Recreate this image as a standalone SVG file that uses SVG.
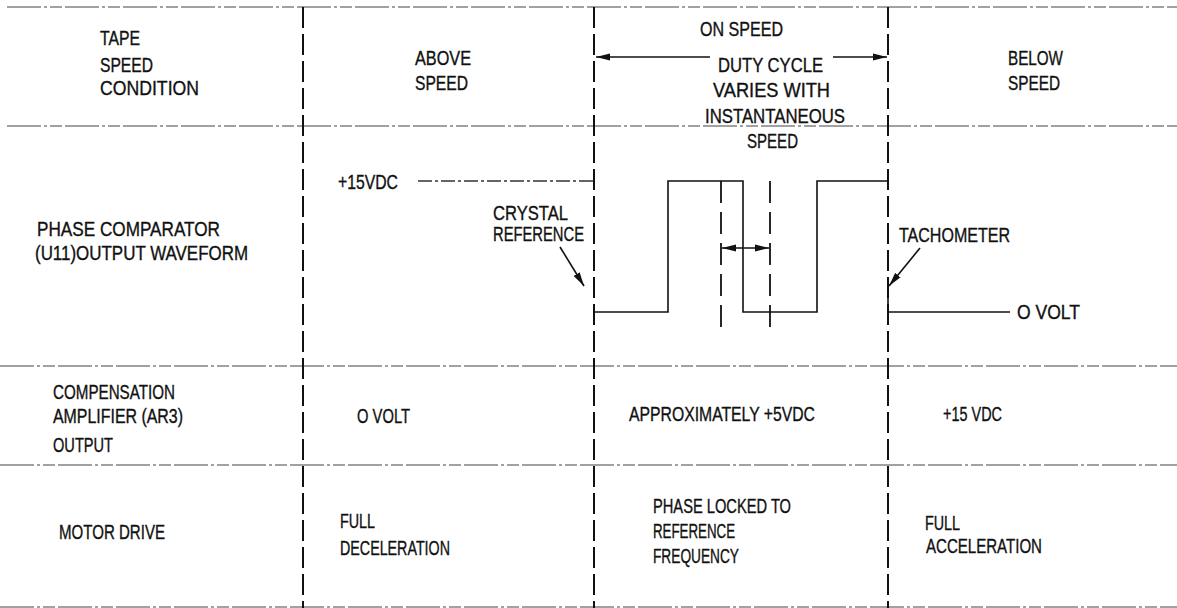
<svg xmlns="http://www.w3.org/2000/svg" width="1177" height="608" viewBox="0 0 1177 608">
<style>
text{font-family:"Liberation Sans",Arial,sans-serif;font-size:20px;fill:#111;stroke:#111;stroke-width:0.35;}
.h{stroke:#444;stroke-width:1.2;stroke-dasharray:34 3 3 3 12 3;fill:none;}
.v{stroke:#111;stroke-width:2;stroke-dasharray:21 6;fill:none;}
.vi{stroke:#111;stroke-width:1.8;stroke-dasharray:22 9;fill:none;}
.w{stroke:#111;stroke-width:1.6;fill:none;}
.wd{stroke:#333;stroke-width:1.3;stroke-dasharray:14 3 3 3;fill:none;}
.a{stroke:#111;stroke-width:1.6;fill:none;}
</style>
<defs>
<marker id="ah" viewBox="0 0 14 8" refX="14" refY="4" markerWidth="14" markerHeight="8" markerUnits="userSpaceOnUse" orient="auto-start-reverse">
<path d="M0,0.5 L14,4 L0,7.5 Z" fill="#111"/>
</marker>
</defs>
<rect width="1177" height="608" fill="#fff"/>
<g id="grid">
<line class="h" x1="7" y1="7" x2="1177" y2="7"/>
<line class="h" x1="7" y1="126" x2="1177" y2="126"/>
<line class="h" x1="0" y1="366" x2="1177" y2="366"/>
<line class="h" x1="0" y1="465" x2="1177" y2="465"/>
<line class="h" x1="0" y1="607" x2="1177" y2="607"/>
<line class="v" x1="303" y1="7" x2="303" y2="608"/>
<line class="v" x1="594" y1="7" x2="594" y2="608"/>
<line class="v" x1="888" y1="7" x2="888" y2="608"/>
</g>
<g id="labels-left">
<text x="100" y="45" textLength="40" lengthAdjust="spacingAndGlyphs">TAPE</text>
<text x="100" y="72" textLength="53" lengthAdjust="spacingAndGlyphs">SPEED</text>
<text x="100" y="95" textLength="99" lengthAdjust="spacingAndGlyphs">CONDITION</text>
<text x="37" y="236" textLength="183" lengthAdjust="spacingAndGlyphs">PHASE COMPARATOR</text>
<text x="35" y="260" textLength="213" lengthAdjust="spacingAndGlyphs">(U11)OUTPUT WAVEFORM</text>
<text x="53" y="399" textLength="122" lengthAdjust="spacingAndGlyphs">COMPENSATION</text>
<text x="53" y="423" textLength="130" lengthAdjust="spacingAndGlyphs">AMPLIFIER (AR3)</text>
<text x="53" y="452" textLength="60" lengthAdjust="spacingAndGlyphs">OUTPUT</text>
<text x="59" y="539" textLength="106" lengthAdjust="spacingAndGlyphs">MOTOR DRIVE</text>
</g>
<g id="above-speed">
<text x="415" y="65" textLength="56" lengthAdjust="spacingAndGlyphs">ABOVE</text>
<text x="415" y="90" textLength="53" lengthAdjust="spacingAndGlyphs">SPEED</text>
<text x="357" y="423" textLength="53" lengthAdjust="spacingAndGlyphs">O VOLT</text>
<text x="340" y="528" textLength="35" lengthAdjust="spacingAndGlyphs">FULL</text>
<text x="340" y="555" textLength="110" lengthAdjust="spacingAndGlyphs">DECELERATION</text>
</g>
<g id="on-speed">
<text x="700" y="36" textLength="83" lengthAdjust="spacingAndGlyphs">ON SPEED</text>
<text x="718" y="72" textLength="105" lengthAdjust="spacingAndGlyphs">DUTY CYCLE</text>
<text x="713" y="97" textLength="117" lengthAdjust="spacingAndGlyphs">VARIES WITH</text>
<text x="705" y="123" textLength="140" lengthAdjust="spacingAndGlyphs">INSTANTANEOUS</text>
<text x="747" y="148" textLength="51" lengthAdjust="spacingAndGlyphs">SPEED</text>
<text x="629" y="421" textLength="186" lengthAdjust="spacingAndGlyphs">APPROXIMATELY +5VDC</text>
<text x="653" y="513" textLength="138" lengthAdjust="spacingAndGlyphs">PHASE LOCKED TO</text>
<text x="653" y="538" textLength="82" lengthAdjust="spacingAndGlyphs">REFERENCE</text>
<text x="653" y="563" textLength="86" lengthAdjust="spacingAndGlyphs">FREQUENCY</text>
</g>
<g id="below-speed">
<text x="1008" y="65" textLength="55" lengthAdjust="spacingAndGlyphs">BELOW</text>
<text x="1008" y="90" textLength="52" lengthAdjust="spacingAndGlyphs">SPEED</text>
<text x="943" y="421" textLength="59" lengthAdjust="spacingAndGlyphs">+15 VDC</text>
<text x="925" y="530" textLength="35" lengthAdjust="spacingAndGlyphs">FULL</text>
<text x="926" y="553" textLength="116" lengthAdjust="spacingAndGlyphs">ACCELERATION</text>
</g>
<g id="waveform">
<line class="wd" x1="418" y1="181" x2="594" y2="181"/>
<polyline class="w" points="594,312 668,312 668,181 743,181 743,312 817,312 817,181 888,181"/>
<line class="w" x1="888" y1="312" x2="1010" y2="312"/>
<line class="w" x1="888" y1="286" x2="888" y2="312"/>
<line class="vi" x1="721" y1="181" x2="721" y2="332"/>
<line class="vi" x1="770" y1="181" x2="770" y2="332"/>
<text x="338" y="189" textLength="60" lengthAdjust="spacingAndGlyphs">+15VDC</text>
<text x="493" y="220" textLength="75" lengthAdjust="spacingAndGlyphs">CRYSTAL</text>
<text x="493" y="241" textLength="91" lengthAdjust="spacingAndGlyphs">REFERENCE</text>
<text x="899" y="242" textLength="111" lengthAdjust="spacingAndGlyphs">TACHOMETER</text>
<text x="1017" y="319" textLength="63" lengthAdjust="spacingAndGlyphs">O VOLT</text>
</g>
<g id="connectors">
<line class="a" x1="710" y1="57" x2="596" y2="57" marker-end="url(#ah)"/>
<line class="a" x1="833" y1="57" x2="887" y2="57" marker-end="url(#ah)"/>
<line class="a" x1="722" y1="248" x2="769" y2="248" marker-start="url(#ah)" marker-end="url(#ah)"/>
<line class="a" x1="560" y1="247" x2="584" y2="286" marker-end="url(#ah)"/>
<line class="a" x1="920" y1="248" x2="889" y2="286" marker-end="url(#ah)"/>
</g>
</svg>
